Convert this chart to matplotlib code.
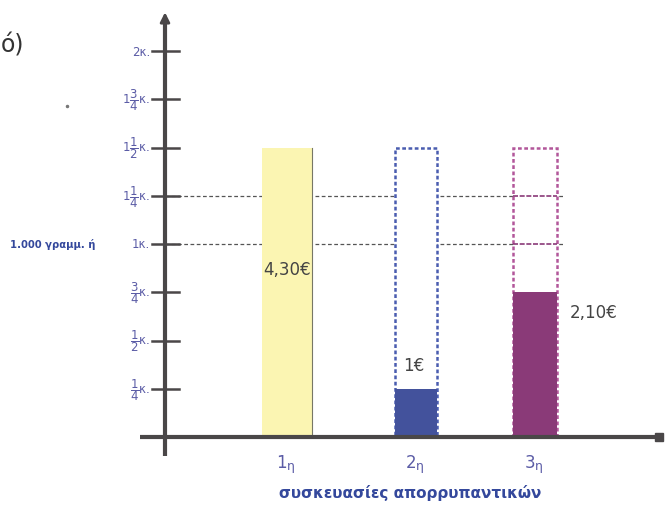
import matplotlib.pyplot as plt
from matplotlib.patches import Rectangle

# quarter-kilo ticks on the y axis
tick_vals = [0.25, 0.5, 0.75, 1.0, 1.25, 1.5, 1.75, 2.0]
tick_labels = [r"$\dfrac{1}{4}$κ.", r"$\dfrac{1}{2}$κ.", r"$\dfrac{3}{4}$κ.", "1κ.",
               r"1$\dfrac{1}{4}$κ.", r"1$\dfrac{1}{2}$κ.", r"1$\dfrac{3}{4}$κ.", "2κ."]

# detergent packages
packages = ["1η", "2η", "3η"]
capacity = [1.5, 1.5, 1.5]      # kg the box holds
used = [1.5, 0.25, 0.75]        # kg that the price pays for
prices = ["4,30€", "1€", "2,10€"]

xpos = [287, 416, 535]
widths = [50, 42, 44]
fills = ["#fbf5b2", "#43529c", "#8a3a78"]
edges = ["#fbf5b2", "#4a5db0", "#b2579a"]

lbl_col = "#5b5ca6"
dark_blue = "#34489c"
axis_col = "#4a4748"

plt.rcParams["mathtext.fontset"] = "dejavusans"

fig = plt.figure(figsize=(6.65, 5.10), dpi=100)
ax = fig.add_axes([0, 0, 1, 1])
ax.set_xlim(0, 665)
ax.set_ylim((438 - 510) / 193, 438 / 193)
ax.axis("off")

narrow = ["DejaVu Sans Condensed", "DejaVu Sans"]

# dashed guide lines at 1 and 1 1/4 kg
for v in [1.0, 1.25]:
    ax.plot([165, 565], [v, v], ls=(0, (3, 2)), lw=0.9, color="#555555", zorder=1)

# bars
for i in range(3):
    x0 = xpos[i] - widths[i] / 2
    if i == 0:
        ax.add_patch(Rectangle((x0, 0), widths[i], used[i], facecolor=fills[i],
                               edgecolor="none", zorder=2))
        ax.plot([x0 + widths[i]] * 2, [0, used[i]], color="#777766", lw=0.8, zorder=3)
    else:
        ax.add_patch(Rectangle((x0, 0), widths[i], capacity[i], facecolor="white",
                               edgecolor=edges[i], lw=1.8, ls=(0, (1.5, 1)), zorder=2))
        ax.add_patch(Rectangle((x0, 0), widths[i], used[i], facecolor=fills[i],
                               edgecolor="none", zorder=3))
        if i == 2:
            for v in [1.0, 1.25]:
                ax.plot([x0, x0 + widths[i]], [v, v], color="#8a3a78",
                        ls=(0, (3, 1)), lw=1.2, zorder=3)

# price labels
ax.text(287, 0.87, prices[0], fontsize=12, color="#444444", ha="center", va="center", zorder=4)
ax.text(414, 0.373, prices[1], fontsize=12, color="#444444", ha="center", va="center", zorder=4)
ax.text(570, 0.648, prices[2], fontsize=12, color="#444444", ha="left", va="center", zorder=4)

# axes with arrow head and square end
ax.plot([165, 165], [-0.1, 2.15], color=axis_col, lw=3, zorder=5, solid_capstyle="butt")
ax.annotate("", xy=(165, 2.215), xytext=(165, 2.12),
            arrowprops=dict(arrowstyle="-|>", color=axis_col, lw=2,
                            mutation_scale=14), zorder=5)
ax.plot([140, 658], [0, 0], color=axis_col, lw=3, zorder=5, solid_capstyle="butt")
ax.plot([659], [0], marker="s", ms=6, color=axis_col, zorder=5)

# y ticks and labels
for v, t in zip(tick_vals, tick_labels):
    ax.plot([152, 179], [v, v], color=axis_col, lw=1.8, zorder=5)
    ax.text(150, v, t, fontsize=8.5, color=lbl_col, ha="right", va="center")

ax.text(10, 1.0, "1.000 γραμμ. ή", fontsize=7.2, color=dark_blue, ha="left",
        va="center", family=narrow, fontweight="bold")

# category labels and axis title
for x, p in zip(xpos, packages):
    ax.text(x, -0.13, p[0], fontsize=12, color=lbl_col, ha="right", va="center")
    ax.text(x, -0.15, p[1], fontsize=9, color=lbl_col, ha="left", va="center")
ax.text(410, -0.285, "συσκευασίες απορρυπαντικών", fontsize=11, color=dark_blue,
        ha="center", va="center", family=narrow, fontweight="bold")

ax.text(1, (438 - 45) / 193, "ό)", fontsize=17, color="#333333", ha="left", va="center")
ax.plot([67], [(438 - 107) / 193], marker="o", ms=1.5, color="#777777")

fig.savefig("out.png", dpi=100)
